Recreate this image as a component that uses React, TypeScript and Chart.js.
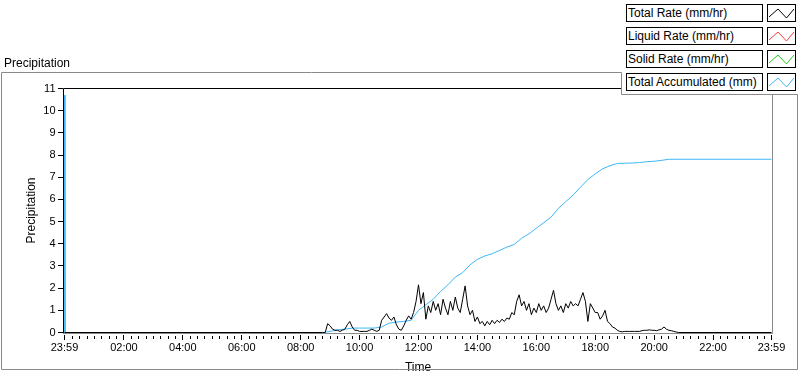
import React, { useEffect, useRef } from "react";
import { Chart, registerables } from "chart.js";

Chart.register(...registerables);

const FONT = "'Liberation Sans', Arial, sans-serif";

const seriesNames = [
  "Total Rate (mm/hr)",
  "Liquid Rate (mm/hr)",
  "Solid Rate (mm/hr)",
  "Total Accumulated (mm)",
];
const seriesColors = ["#000000", "#ff3c3c", "#20d020", "#3cb8f6"];

const chartTitle = "Precipitation";
const yTitle = "Precipitation";
const xTitle = "Time";

// hours relative to midnight; the day runs 23:59 -> 23:59
const dayStartHour = -1 / 60;
const dayEndHour = 24 - 1 / 60;
const xMajorTickHours = [dayStartHour, 2, 4, 6, 8, 10, 12, 14, 16, 18, 20, 22, dayEndHour];
const xMinorStepHours = 0.25;
const yMin = 0;
const yMax = 11;
const yStep = 1;

// Total rate, sampled every 5 minutes from 08:45 (zero elsewhere)
const rateStartHour = 8.75;
const rateStepHours = 5 / 60;
const totalRate = [
  0, 0, 0.4, 0.3, 0.15, 0.1, 0.1, 0.05, 0.1, 0.15,
  0.35, 0.5, 0.25, 0.1, 0.1, 0.05, 0.05, 0.05, 0.05, 0.1,
  0.15, 0.1, 0.05, 0.1, 0.55, 0.7, 0.85, 0.65, 0.55, 0.7,
  0.35, 0.15, 0.1, 0.3, 0.55, 0.75, 0.6, 0.9, 1.4, 2.15,
  1.3, 1.8, 0.6, 1.2, 0.9, 1.4, 1.0, 1.3, 0.8, 1.5,
  1.1, 0.8, 1.4, 1.0, 1.6, 1.1, 0.9, 1.5, 2.1, 1.2,
  0.8, 1.0, 0.5, 0.7, 0.4, 0.5, 0.3, 0.5, 0.35, 0.55,
  0.4, 0.55, 0.45, 0.6, 0.5, 0.65, 0.6, 0.9, 0.8, 1.4,
  1.7, 1.2, 1.4, 1.0, 1.3, 0.8, 1.1, 0.9, 1.3, 1.0,
  1.2, 0.9, 1.1, 1.5, 1.9, 1.3, 1.0, 1.2, 0.9, 1.3,
  1.1, 1.4, 1.2, 1.3, 1.2, 1.5, 1.8, 1.4, 0.5, 1.3,
  1.1, 0.9, 0.9, 0.6, 0.75, 1.0, 0.5, 0.4, 0.25, 0.2,
  0.1, 0.05, 0.03, 0.05, 0.05, 0.05, 0.05, 0.05, 0.05, 0.05,
  0.08, 0.1, 0.1, 0.12, 0.1, 0.1, 0.08, 0.12, 0.15, 0.25,
  0.15, 0.1, 0.08, 0.05, 0.02, 0,
];

// Liquid and solid rates: listed in the legend, no visible samples
const liquidRate: number[] = [];
const solidRate: number[] = [];

// Accumulated total: first sample at 23:59, then 15-min samples from 08:45
const accumFirstValue = 10.7;
const accumStartHour = 8.75;
const accumStepHours = 0.25;
const totalAccum = [
  0, 0.05, 0.12, 0.15, 0.2, 0.2, 0.2, 0.2, 0.25, 0.42,
  0.47, 0.5, 0.55, 1.0, 1.25, 1.5, 1.85, 2.15, 2.5, 2.7,
  3.05, 3.3, 3.45, 3.55, 3.7, 3.85, 3.97, 4.25, 4.45, 4.7,
  4.95, 5.2, 5.6, 5.9, 6.2, 6.55, 6.9, 7.15, 7.38, 7.52,
  7.62, 7.63, 7.64, 7.66, 7.7, 7.72, 7.76, 7.81,
];

function fmtHour(h: number): string {
  let m = Math.round(h * 60);
  m = ((m % 1440) + 1440) % 1440;
  const hh = Math.floor(m / 60);
  const mm = m % 60;
  return String(hh).padStart(2, "0") + ":" + String(mm).padStart(2, "0");
}

function buildRate() {
  const pts: { x: number; y: number }[] = [{ x: dayStartHour, y: 0 }];
  totalRate.forEach((v, i) => pts.push({ x: rateStartHour + i * rateStepHours, y: v }));
  pts.push({ x: dayEndHour, y: 0 });
  return pts;
}
function buildSeries(vals: number[]) {
  return vals.map((v, i) => ({ x: rateStartHour + i * rateStepHours, y: v }));
}
function buildAccum() {
  const pts: { x: number; y: number }[] = [
    { x: dayStartHour, y: accumFirstValue },
    { x: 0, y: 0 },
  ];
  totalAccum.forEach((v, i) => pts.push({ x: accumStartHour + i * accumStepHours, y: v }));
  pts.push({ x: dayEndHour, y: totalAccum[totalAccum.length - 1] });
  return pts;
}

const decorPlugin = {
  id: "decor",
  beforeDraw(chart: any) {
    const ctx = chart.ctx;
    ctx.save();
    ctx.fillStyle = "#ffffff";
    ctx.fillRect(0, 0, chart.width, chart.height);
    ctx.restore();
  },
  beforeDatasetsDraw(chart: any) {
    const ctx = chart.ctx;
    const ca = chart.chartArea;
    const l = Math.floor(ca.left) - 0.5;
    const t = ca.top;
    const b = ca.bottom + 1;
    const r = ca.right + 1;
    ctx.save();
    ctx.lineWidth = 1;
    ctx.strokeStyle = "#000000";
    ctx.beginPath();
    ctx.moveTo(l, b);
    ctx.lineTo(l, t);
    ctx.lineTo(r, t);
    ctx.stroke();
    ctx.strokeStyle = "#8a8a8a";
    ctx.beginPath();
    ctx.moveTo(r, t);
    ctx.lineTo(r, b);
    ctx.lineTo(l, b);
    ctx.stroke();
    ctx.restore();
  },
  afterDraw(chart: any) {
    const ctx = chart.ctx;
    const ca = chart.chartArea;
    const xs = chart.scales.x;
    const ys = chart.scales.y;
    ctx.save();
    ctx.lineWidth = 1;
    ctx.strokeStyle = "#000000";
    const yb = ca.bottom + 0.5;
    xMajorTickHours.forEach((v) => {
      const px = Math.round(xs.getPixelForValue(v) - 0.5) + 0.5;
      ctx.beginPath();
      ctx.moveTo(px, yb + 2);
      ctx.lineTo(px, yb + 7);
      ctx.stroke();
    });
    for (let h = xMinorStepHours; h < 24; h += xMinorStepHours) {
      if (Math.abs(h / 2 - Math.round(h / 2)) < 1e-6) continue;
      const px = Math.round(xs.getPixelForValue(h) - 0.5) + 0.5;
      ctx.beginPath();
      ctx.moveTo(px, yb + 3);
      ctx.lineTo(px, yb + 6);
      ctx.stroke();
    }
    const lx = Math.floor(ca.left) - 1;
    for (let v = yMin; v <= yMax; v += yStep) {
      const py = Math.round(ys.getPixelForValue(v) - 0.5) + 0.5;
      ctx.beginPath();
      ctx.moveTo(lx - 5, py);
      ctx.lineTo(lx, py);
      ctx.stroke();
    }
    ctx.strokeStyle = "#8a8a8a";
    ctx.beginPath();
    ctx.moveTo(1.5, 369.5);
    ctx.lineTo(1.5, 72.5);
    ctx.lineTo(621.5, 72.5);
    ctx.lineTo(621.5, 94.5);
    ctx.lineTo(797.5, 94.5);
    ctx.lineTo(797.5, 369.5);
    ctx.closePath();
    ctx.stroke();
    ctx.restore();
  },
};

function Swatch({ color }: { color: string }) {
  return (
    <svg width={29} height={18} style={{ display: "block" }}>
      <rect x={0.5} y={0.5} width={28} height={17} fill="#fff" stroke="#000" strokeWidth={1} />
      <polyline points="2,13 11,5 19.5,14 27,5" fill="none" stroke={color} strokeWidth={1} />
    </svg>
  );
}

export default function App() {
  const canvasRef = useRef<HTMLCanvasElement | null>(null);

  useEffect(() => {
    document.body.style.margin = "0";
    const canvas = canvasRef.current;
    if (!canvas) return;
    // first dataset is drawn on top
    const datasets = [
      { label: seriesNames[0], data: buildRate(), borderColor: seriesColors[0] },
      { label: seriesNames[1], data: buildSeries(liquidRate), borderColor: seriesColors[1] },
      { label: seriesNames[2], data: buildSeries(solidRate), borderColor: seriesColors[2] },
      { label: seriesNames[3], data: buildAccum(), borderColor: seriesColors[3] },
    ].map((d) => ({
      ...d,
      borderWidth: 1,
      pointRadius: 0,
      fill: false,
      tension: 0,
      clip: 2,
    }));

    const chart = new Chart(canvas, {
      type: "line",
      data: { datasets },
      options: {
        animation: false,
        responsive: false,
        devicePixelRatio: 1,
        events: [],
        layout: { padding: { left: 0, right: 28.5, top: 88.5, bottom: 0 } },
        plugins: {
          legend: { display: false },
          tooltip: { enabled: false },
          title: { display: false },
        },
        scales: {
          x: {
            type: "linear",
            min: dayStartHour,
            max: dayEndHour,
            grid: { display: false, drawTicks: false },
            border: { display: false },
            afterBuildTicks: (scale: any) => {
              scale.ticks = xMajorTickHours.map((v) => ({ value: v }));
            },
            afterFit: (scale: any) => {
              scale.height = 40.5;
            },
            ticks: {
              autoSkip: false,
              maxRotation: 0,
              padding: 9,
              color: "#000",
              font: { family: FONT, size: 11 },
              callback: (v: any) => fmtHour(Number(v)),
            },
            title: {
              display: true,
              text: xTitle,
              color: "#000",
              font: { family: FONT, size: 12 },
              padding: { top: 0, bottom: -1.5 },
            },
          },
          y: {
            type: "linear",
            min: yMin,
            max: yMax,
            grid: { display: false, drawTicks: false },
            border: { display: false },
            afterFit: (scale: any) => {
              scale.width = 64.5;
            },
            ticks: {
              stepSize: yStep,
              padding: 9,
              color: "#000",
              font: { family: FONT, size: 11 },
            },
            title: {
              display: true,
              text: yTitle,
              color: "#000",
              font: { family: FONT, size: 12 },
              padding: { top: 24, bottom: 0 },
            },
          },
        },
      },
      plugins: [decorPlugin],
    } as any);

    return () => chart.destroy();
  }, []);

  const rowTops = [4, 27, 50, 73];

  return (
    <div
      style={{
        position: "fixed",
        left: 0,
        top: 0,
        width: 800,
        height: 373,
        background: "#fff",
        fontFamily: FONT,
        overflow: "hidden",
      }}
    >
      <canvas
        ref={canvasRef}
        width={800}
        height={373}
        style={{ position: "absolute", left: 0, top: 0, width: 800, height: 373 }}
      />
      <div
        style={{
          position: "absolute",
          left: 4,
          top: 57,
          fontSize: 12,
          lineHeight: "12px",
          color: "#000",
          whiteSpace: "nowrap",
        }}
      >
        {chartTitle}
      </div>
      <div
        style={{
          position: "absolute",
          left: 622,
          top: 0,
          width: 178,
          height: 94,
          background: "#fff",
        }}
      >
        {seriesNames.map((name, i) => (
          <div key={name} style={{ position: "absolute", left: 0, top: rowTops[i] }}>
            <div
              style={{
                position: "absolute",
                left: 4,
                top: 0,
                width: 137,
                height: 18,
                boxSizing: "border-box",
                border: "1px solid #000",
                paddingLeft: 1,
                fontSize: 12,
                lineHeight: "16px",
                color: "#000",
                whiteSpace: "nowrap",
                background: "#fff",
              }}
            >
              {name}
            </div>
            <div style={{ position: "absolute", left: 145, top: 0 }}>
              <Swatch color={seriesColors[i]} />
            </div>
          </div>
        ))}
      </div>
    </div>
  );
}
